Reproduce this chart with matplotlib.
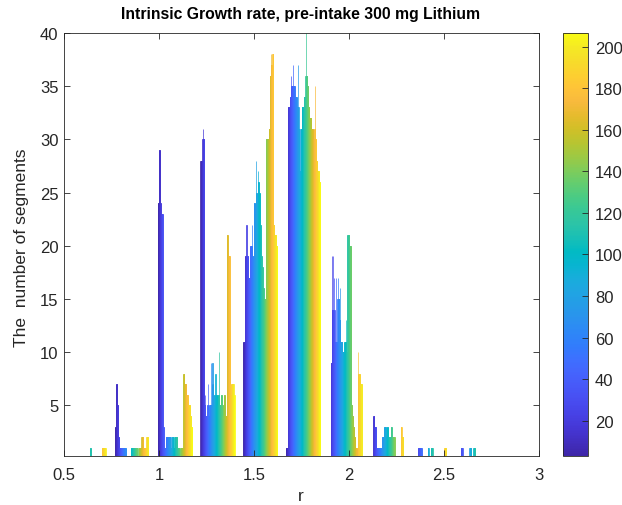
import numpy as np
import matplotlib
matplotlib.use('Agg')
import matplotlib.pyplot as plt
from matplotlib.colors import LinearSegmentedColormap, Normalize
from matplotlib.cm import ScalarMappable

plt.rcParams['font.family'] = ['Liberation Sans', 'DejaVu Sans']

# ---------------- data ----------------
n_series = 210                       # segments (colour index 1..210)
bin_centers = [0.634, 0.859, 1.084, 1.308, 1.533, 1.758, 1.983, 2.207, 2.432, 2.657]
bin_width = 0.2248
series_per_col = 6                   # values read at ~6-series resolution (35 columns per bin)

counts_b1 = [0]*18 + [1] + [0]*11 + [1, 1, 1, 1] + [0]
counts_b2 = [3, 7, 5, 2, 1, 1, 1, 1, 1, 1, 1, 0, 0, 0, 0, 0, 1, 1, 1, 1, 1, 1, 1, 0, 1, 1, 1, 2, 2, 1, 1, 1, 2, 2, 0]
counts_b3 = [24, 29, 24, 23, 23, 3, 1, 1, 2, 2, 2, 2, 2, 1, 2, 2, 1, 2, 2, 2, 1, 1, 0, 1, 1, 1, 8, 7, 7, 6, 6, 5, 5, 4, 3]
counts_b4 = [28, 28, 30, 30, 5, 4, 4, 5, 4, 5, 5, 5, 7, 5, 6, 5, 6, 5, 6, 5, 5, 6, 4, 5, 6, 4, 4, 21, 19, 19, 7, 6, 7, 7, 6]
counts_b5 = [11, 11, 19, 18, 19, 17, 17, 20, 20, 17, 19, 24, 23, 25, 24, 26, 25, 22, 19, 18, 16, 15, 15, 30, 30, 30, 31, 36, 37, 37, 38, 22, 21, 21, 20]
counts_b6 = [1, 1, 33, 33, 34, 35, 35, 35, 35, 34, 34, 33, 33, 31, 27, 31, 33, 33, 34, 34, 36, 36, 35, 33, 32, 32, 31, 31, 30, 31, 30, 28, 27, 27, 26]
counts_b7 = [0, 0, 9, 14, 14, 14, 11, 11, 11, 15, 15, 13, 11, 11, 10, 10, 11, 11, 10, 21, 21, 20, 20, 5, 4, 3, 2, 1, 1, 0, 8, 8, 7, 7, 0]
counts_b8 = [0, 0, 4, 3, 3, 1, 1, 1, 1, 1, 1, 2, 2, 3, 3, 2, 3, 2, 2, 2, 3, 2, 2, 2, 0, 0, 0, 0, 0, 0, 3, 2, 2, 0, 0]
counts_b9 = [0, 0, 0, 0, 1, 1, 1, 1, 0, 0, 0, 0, 0, 0, 1, 0, 0, 1, 1, 0, 0, 0, 0, 0, 0, 0, 0, 0, 0, 0, 0, 1, 1, 0, 0]
counts_b10 = [0, 0, 0, 0, 1, 1, 0, 0, 0, 0, 0, 0, 0, 1, 1, 0, 0, 1, 1, 0, 0, 0, 0, 0, 0, 0, 0, 0, 0, 0, 0, 0, 0, 0, 0]

# single segments standing above their neighbours: (bin index, column, count)
spikes = [(3, 2, 31), (3, 4, 6), (3, 7, 7), (3, 10, 9), (3, 12, 9), (3, 15, 8), (3, 19, 10), (3, 28, 20), (3, 30, 12),
          (4, 3, 22), (4, 9, 22), (4, 13, 28), (4, 15, 27), (4, 28, 38),
          (5, 5, 36), (5, 7, 37), (5, 12, 37), (5, 20, 40), (5, 29, 35),
          (6, 3, 19), (6, 4, 19), (6, 5, 17), (6, 7, 17), (6, 9, 17), (6, 11, 16), (6, 17, 13), (6, 30, 10)]

x_ticks = [0.5, 1, 1.5, 2, 2.5, 3]
x_tick_labels = ['0.5', '1', '1.5', '2', '2.5', '3']
y_ticks = [5, 10, 15, 20, 25, 30, 35, 40]
cbar_ticks = [20, 40, 60, 80, 100, 120, 140, 160, 180, 200]
cbar_limits = [3, 206.5]

# ---------------- parula colormap ----------------
parula_pts = [
    [0.2422, 0.1504, 0.6603], [0.2578, 0.1818, 0.7511], [0.2706, 0.2147, 0.8364], [0.2783, 0.2559, 0.8991],
    [0.2813, 0.3006, 0.9414], [0.2795, 0.3447, 0.9717], [0.2699, 0.3892, 0.9906], [0.2440, 0.4358, 0.9988],
    [0.1963, 0.4847, 0.9892], [0.1786, 0.5289, 0.9682], [0.1687, 0.5703, 0.9359], [0.1460, 0.6091, 0.9079],
    [0.1248, 0.6459, 0.8883], [0.0952, 0.6798, 0.8598], [0.0297, 0.7082, 0.8163], [0.0067, 0.7312, 0.7660],
    [0.0964, 0.7500, 0.7120], [0.1717, 0.7670, 0.6554], [0.2161, 0.7843, 0.5923], [0.2906, 0.7973, 0.5188],
    [0.3909, 0.8029, 0.4354], [0.5044, 0.7993, 0.3480], [0.6174, 0.7876, 0.2612], [0.7242, 0.7698, 0.1910],
    [0.8203, 0.7498, 0.1535], [0.9035, 0.7330, 0.1774], [0.9728, 0.7298, 0.2394], [0.9970, 0.7659, 0.2199],
    [0.9892, 0.8136, 0.1885], [0.9676, 0.8639, 0.1643], [0.9597, 0.9135, 0.1423], [0.9769, 0.9839, 0.0805]]
parula = LinearSegmentedColormap.from_list('parula', parula_pts, N=256)

# ---------------- build count matrix ----------------
bins = [counts_b1, counts_b2, counts_b3, counts_b4, counts_b5, counts_b6, counts_b7, counts_b8, counts_b9, counts_b10]
counts = np.zeros((len(bins), n_series))
for k, cols in enumerate(bins):
    for s in range(n_series):
        counts[k, s] = cols[min(s // series_per_col, len(cols) - 1)]
for k, c, v in spikes:
    counts[k, c * series_per_col + 2] = v

# ---------------- figure ----------------
W, H = 622, 506
fig = plt.figure(figsize=(W / 100, H / 100), dpi=100)
ax = fig.add_axes([64 / W, 49 / H, 475 / W, 423 / H])
cax = fig.add_axes([563 / W, 49 / H, 25 / W, 423 / H])

centers = np.array(bin_centers)
step = 0.8 * bin_width / n_series
bar_norm = Normalize(1, n_series)
for s in range(n_series):
    col = parula(bar_norm(s + 1))
    xs = centers + (s + 1 - (n_series + 1) / 2) * step
    ax.bar(xs, counts[:, s], width=step, color=col, edgecolor=col, linewidth=0.5)

dark = '#262626'
ax.set_xlim(0.5, 3)
ax.set_ylim(0.25, 40)
ax.set_xticks(x_ticks)
ax.set_xticklabels(x_tick_labels)
ax.set_yticks(y_ticks)
ax.tick_params(direction='in', top=True, right=True, length=4, width=0.6,
               color=dark, labelcolor=dark, labelsize=12)
ax.tick_params(axis='x', pad=8)
ax.tick_params(axis='y', pad=4)
for sp in ax.spines.values():
    sp.set_color(dark)
    sp.set_linewidth(0.6)

fig.text(301 / W, 1 - 14 / H, 'Intrinsic Growth rate, pre-intake 300 mg Lithium',
         ha='center', va='center', fontsize=11.3, fontweight='bold', color='black')
fig.text(301 / W, 1 - 497 / H, 'r', ha='center', va='center', fontsize=12.5, color=dark)
fig.text(22 / W, 1 - 248 / H, 'The  number of segments', ha='center', va='center',
         rotation=90, fontsize=12.5, color=dark)

sm = ScalarMappable(norm=Normalize(*cbar_limits), cmap=parula)
cb = fig.colorbar(sm, cax=cax)
cb.set_ticks(cbar_ticks)
cb.ax.tick_params(direction='in', length=4, width=0.6, color=dark, labelcolor=dark,
                  labelsize=12, pad=5)
cb.outline.set_edgecolor(dark)
cb.outline.set_linewidth(0.6)

fig.savefig('out.png', dpi=100)
